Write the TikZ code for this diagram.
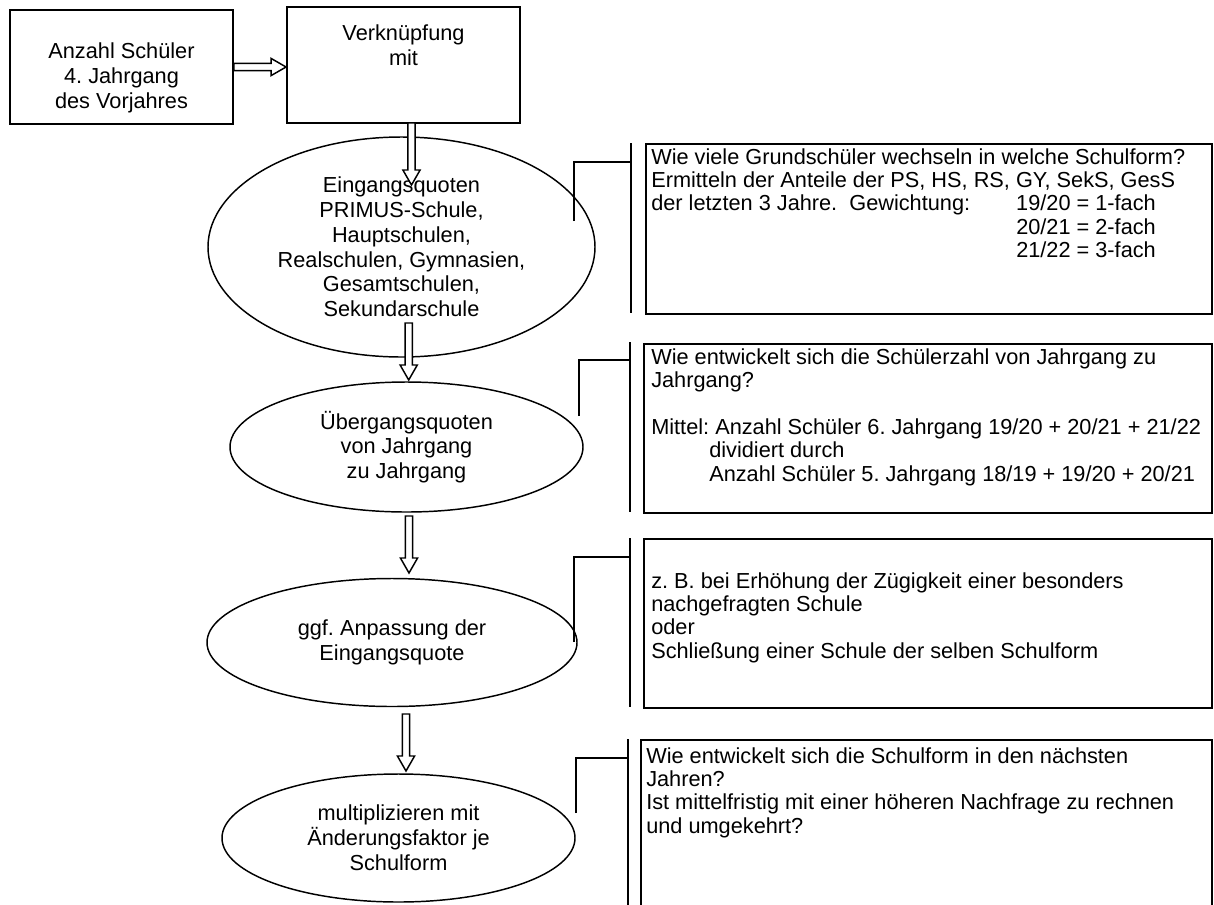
\documentclass[tikz,border=0pt]{standalone}
\usepackage{fontspec}
\setmainfont{Liberation Sans}
\usetikzlibrary{shapes.geometric,calc}
\frenchspacing
\newlength\gewind \setlength\gewind{273.75pt}
\newlength\mitind \setlength\mitind{43.5pt}
\newcommand\varrowdraw[2]{\draw[blockarrow] ($(#1)+(-3.6,0)$) -- ($(#2)+(-3.6,-15)$) -- ($(#2)+(-8.6,-15)$) -- (#2) -- ($(#2)+(8.6,-15)$) -- ($(#2)+(3.6,-15)$) -- ($(#1)+(3.6,0)$) -- cycle;}
\newcommand\harrowdraw[2]{\draw[blockarrow] ($(#1)+(0,-3.6)$) -- ($(#2)+(-15,-3.6)$) -- ($(#2)+(-15,-8.6)$) -- (#2) -- ($(#2)+(-15,8.6)$) -- ($(#2)+(-15,3.6)$) -- ($(#1)+(0,3.6)$) -- cycle;}
\begin{document}
\begin{tikzpicture}[x=0.75pt,y=-0.75pt,
  every node/.style={font=\fontsize{16.3}{18.6}\selectfont},
  box/.style={draw, line width=1.4pt, rectangle, inner sep=0pt},
  oval/.style={draw, line width=1.1pt, ellipse, inner sep=0pt, align=center},
  note/.style={draw, line width=1.4pt, rectangle, inner sep=0pt, anchor=north west},
  notetext/.style={anchor=base west, inner sep=0pt, font=\fontsize{16.3}{17.6}\selectfont},
  bracket/.style={line width=1.1pt},
  blockarrow/.style={draw, fill=white, line width=1.1pt, line join=miter}]
\clip (0,0) rectangle (1214,904);
\fill[white] (0,0) rectangle (1214,904);

% top boxes
\node[box, minimum width=167.25pt, minimum height=85.5pt] (b1) at (121.5,67) {};
\node[align=center, inner sep=0pt] (b1t) at (121.5,78) {Anzahl Schüler\\4. Jahrgang\\des Vorjahres};
\node[box, minimum width=174.75pt, minimum height=87pt] (b2) at (403.5,65) {};
\node[align=center, inner sep=0pt] (b2t) at (403.5,45) {Verknüpfung\\mit};

% ellipses
\node[oval, minimum width=290.25pt, minimum height=165pt] (e1) at (401.5,247)
  {Eingangsquoten\\PRIMUS-Schule,\\Hauptschulen,\\Realschulen, Gymnasien,\\Gesamtschulen,\\Sekundarschule};
\node[oval, minimum width=264.75pt, minimum height=97.5pt] (e2) at (406.5,447)
  {Übergangsquoten\\von Jahrgang\\zu Jahrgang};
\node[oval, minimum width=277.5pt, minimum height=96pt] (e3) at (392,642.5)
  {ggf. Anpassung der\\Eingangsquote};
\node[oval, minimum width=264.75pt, minimum height=96pt] (e4) at (398.5,838)
  {multiplizieren mit\\Änderungsfaktor je\\Schulform};

% arrows
\coordinate (h1s) at (b1.east);
\coordinate (h1e) at (b2.west |- b1.east);
\harrowdraw{h1s}{h1e}
\coordinate (a1s) at (411.5,123);
\coordinate (a1e) at (411.5,185);
\varrowdraw{a1s}{a1e}
\coordinate (a2s) at (408.7,323);
\coordinate (a2e) at (408.7,380);
\varrowdraw{a2s}{a2e}
\coordinate (a3s) at (409,516);
\coordinate (a3e) at (409,573);
\varrowdraw{a3s}{a3e}
\coordinate (a4s) at (406,714);
\coordinate (a4e) at (406,771);
\varrowdraw{a4s}{a4e}

% note boxes
\node[note, minimum width=424.5pt, minimum height=127.5pt] (nA) at (645,143) {};
\node[note, minimum width=426pt, minimum height=126.75pt] (nB) at (643,343) {};
\node[note, minimum width=426pt, minimum height=126.75pt] (nC) at (643,538) {};
\node[note, minimum width=428.25pt, minimum height=130pt] (nD) at (640,739) {};

\node[notetext] (tA) at (651,164) {\begin{tabular}[t]{@{}l@{}}
Wie viele Grundschüler wechseln in welche Schulform?\\
Ermitteln der Anteile der PS, HS, RS, GY, SekS, GesS\\
\makebox[\gewind][l]{der letzten 3 Jahre.\ \ Gewichtung:}19/20 = 1-fach\\
\hspace*{\gewind}20/21 = 2-fach\\
\hspace*{\gewind}21/22 = 3-fach
\end{tabular}};
\node[notetext] (tB) at (651,364) {\begin{tabular}[t]{@{}l@{}}
Wie entwickelt sich die Schülerzahl von Jahrgang zu\\
Jahrgang?\\
\\
Mittel: Anzahl Schüler 6. Jahrgang 19/20 + 20/21 + 21/22\\
\hspace*{\mitind}dividiert durch\\
\hspace*{\mitind}Anzahl Schüler 5. Jahrgang 18/19 + 19/20 + 20/21
\end{tabular}};
\node[notetext] (tC) at (651,588) {\begin{tabular}[t]{@{}l@{}}
z. B. bei Erhöhung der Zügigkeit einer besonders\\
nachgefragten Schule\\
oder\\
Schließung einer Schule der selben Schulform
\end{tabular}};
\node[notetext] (tD) at (646,763) {\begin{tabular}[t]{@{}l@{}}
Wie entwickelt sich die Schulform in den nächsten\\
Jahren?\\
Ist mittelfristig mit einer höheren Nachfrage zu rechnen\\
und umgekehrt?
\end{tabular}};

% brackets
\coordinate (v1t) at (631,143); \coordinate (v1b) at (631,313);
\coordinate (k1a) at (574,221); \coordinate (k1b) at (574,162); \coordinate (k1c) at (631,162);
\draw[bracket] (v1t) -- (v1b);
\draw[bracket] (k1a) -- (k1b) -- (k1c);
\coordinate (v2t) at (630,342); \coordinate (v2b) at (630,512);
\coordinate (k2a) at (579,416); \coordinate (k2b) at (579,360); \coordinate (k2c) at (630,360);
\draw[bracket] (v2t) -- (v2b);
\draw[bracket] (k2a) -- (k2b) -- (k2c);
\coordinate (v3t) at (630,538); \coordinate (v3b) at (630,707);
\coordinate (k3a) at (574,642); \coordinate (k3b) at (574,557); \coordinate (k3c) at (630,557);
\draw[bracket] (v3t) -- (v3b);
\draw[bracket] (k3a) -- (k3b) -- (k3c);
\coordinate (v4t) at (628,739); \coordinate (v4b) at (628,910);
\coordinate (k4a) at (576,813); \coordinate (k4b) at (576,758); \coordinate (k4c) at (628,758);
\draw[bracket] (v4t) -- (v4b);
\draw[bracket] (k4a) -- (k4b) -- (k4c);
\end{tikzpicture}
\end{document}
